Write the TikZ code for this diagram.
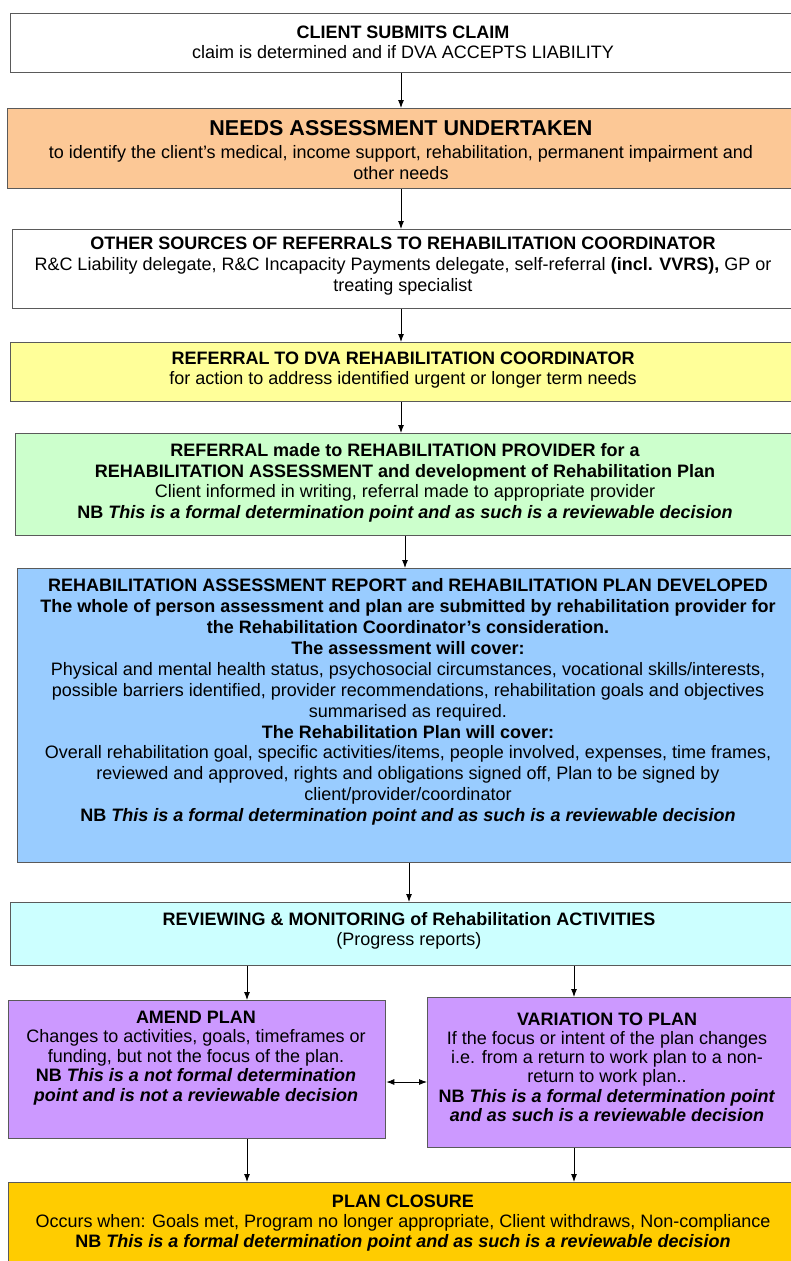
\documentclass[tikz,border=0pt]{standalone}
\usepackage{fontspec}
\setmainfont{Liberation Sans}
\usetikzlibrary{arrows.meta}
\definecolor{cOrange}{HTML}{FCC896}
\definecolor{cYellow}{HTML}{FFFF99}
\definecolor{cGreen}{HTML}{CCFFCC}
\definecolor{cBlue}{HTML}{99CCFF}
\definecolor{cCyan}{HTML}{CCFFFF}
\definecolor{cPurple}{HTML}{CC99FF}
\definecolor{cGold}{HTML}{FFCC00}
\definecolor{cBorder}{HTML}{5A5A5A}
\begin{document}
\begin{tikzpicture}[x=1pt,y=-1pt,
  box/.style={draw=cBorder, line width=1.3pt, rectangle, inner sep=0pt, anchor=north west},
  txt/.style={align=center, inner sep=0pt, text=black, font=\fontsize{18}{20.6}\selectfont},
  arr/.style={line width=0.9pt, -{Latex[length=8pt,width=6pt]}},
  darr/.style={line width=0.9pt, {Latex[length=8pt,width=6pt]}-{Latex[length=8pt,width=6pt]}}
]
\useasboundingbox (0,0) rectangle (790,1261);
\fill[white] (0,0) rectangle (790,1261);

% boxes
\node[box, fill=white,   minimum width=786pt, minimum height=59pt]  (b1) at (10,13) {};
\node[box, fill=cOrange, minimum width=789pt, minimum height=80pt]  (b2) at (7,108) {};
\node[box, fill=white,   minimum width=784pt, minimum height=79pt]  (b3) at (12,229) {};
\node[box, fill=cYellow, minimum width=786pt, minimum height=59pt]  (b4) at (10,342) {};
\node[box, fill=cGreen,  minimum width=781pt, minimum height=102pt] (b5) at (15,433) {};
\node[box, fill=cBlue,   minimum width=779pt, minimum height=294pt] (b6) at (17,568) {};
\node[box, fill=cCyan,   minimum width=786pt, minimum height=63pt]  (b7) at (10,902) {};
\node[box, fill=cPurple, minimum width=377pt, minimum height=138pt] (b8) at (8,1000) {};
\node[box, fill=cPurple, minimum width=369pt, minimum height=150pt] (b9) at (427,997) {};
\node[box, fill=cGold,   minimum width=788pt, minimum height=90pt]  (b10) at (8,1182) {};

% texts
\node[txt] (t1) at (403,42.5) {\textbf{CLIENT SUBMITS CLAIM}\\claim is determined and if DVA ACCEPTS LIABILITY};
\node[txt] (t2) at (401,150) {{\fontsize{21.5}{24}\selectfont\bfseries NEEDS ASSESSMENT UNDERTAKEN}\\[2pt]to identify the client's medical, income support, rehabilitation, permanent impairment and\\other needs};
\node[txt] (t3) at (403,266) {\textbf{OTHER SOURCES OF REFERRALS TO REHABILITATION COORDINATOR}\\R\&C Liability delegate, R\&C Incapacity Payments delegate, self-referral \textbf{(incl. VVRS),} GP or\\treating specialist};
\node[txt] (t4) at (403,370) {\textbf{REFERRAL TO DVA REHABILITATION COORDINATOR}\\for action to address identified urgent or longer term needs};
\node[txt] (t5) at (405,483) {\textbf{REFERRAL made to REHABILITATION PROVIDER for a}\\\textbf{REHABILITATION ASSESSMENT and development of Rehabilitation Plan}\\Client informed in writing, referral made to appropriate provider\\\textbf{NB \textit{This is a formal determination point and as such is a reviewable decision}}};
\node[txt, font=\fontsize{18}{20.9}\selectfont] (t6) at (408,702) {\textbf{REHABILITATION ASSESSMENT REPORT and REHABILITATION PLAN DEVELOPED}\\
\textbf{The whole of person assessment and plan are submitted by rehabilitation provider for}\\
\textbf{the Rehabilitation Coordinator's consideration.}\\
\textbf{The assessment will cover:}\\
Physical and mental health status, psychosocial circumstances, vocational skills/interests,\\
possible barriers identified, provider recommendations, rehabilitation goals and objectives\\
summarised as required.\\
\textbf{The Rehabilitation Plan will cover:}\\
Overall rehabilitation goal, specific activities/items, people involved, expenses, time frames,\\
reviewed and approved, rights and obligations signed off, Plan to be signed by\\
client/provider/coordinator\\
\textbf{NB \textit{This is a formal determination point and as such is a reviewable decision}}};
\node[txt] (t7) at (409,931) {\textbf{REVIEWING \& MONITORING of Rehabilitation ACTIVITIES}\\(Progress reports)};
\node[txt, font=\fontsize{18}{19.4}\selectfont] (t8) at (196,1058) {\textbf{AMEND PLAN}\\Changes to activities, goals, timeframes or\\funding, but not the focus of the plan.\\\textbf{NB \textit{This is a not formal determination}}\\\textbf{\textit{point and is not a reviewable decision}}};
\node[txt, font=\fontsize{18}{19.2}\selectfont] (t9) at (607,1067) {\textbf{VARIATION TO PLAN}\\If the focus or intent of the plan changes\\i.e. from a return to work plan to a non-\\return to work plan..\\\textbf{NB \textit{This is a formal determination point}}\\\textbf{\textit{and as such is a reviewable decision}}};
\node[txt, font=\fontsize{18}{20}\selectfont] (t10) at (403,1223) {\textbf{PLAN CLOSURE}\\Occurs when: Goals met, Program no longer appropriate, Client withdraws, Non-compliance\\\textbf{NB \textit{This is a formal determination point and as such is a reviewable decision}}};

% connectors
\coordinate (xL) at (247,0);
\coordinate (xR) at (574,0);
\coordinate (yA) at (0,1082);
\coordinate (xA) at (401,0);
\coordinate (xB) at (405,0);
\coordinate (xC) at (409,0);
\draw[arr] (b1.south -| xA) -- (b2.north -| xA);
\draw[arr] (b2.south -| xA) -- (b3.north -| xA);
\draw[arr] (b3.south -| xA) -- (b4.north -| xA);
\draw[arr] (b4.south -| xA) -- (b5.north -| xA);
\draw[arr] (b5.south -| xB) -- (b6.north -| xB);
\draw[arr] (b6.south -| xC) -- (b7.north -| xC);
\draw[arr] (b7.south -| xL) -- (b8.north -| xL);
\draw[arr] (b7.south -| xR) -- (b9.north -| xR);
\draw[darr] (b8.east |- yA) -- (b9.west |- yA);
\draw[arr] (b8.south -| xL) -- (b10.north -| xL);
\draw[arr] (b9.south -| xR) -- (b10.north -| xR);
\end{tikzpicture}
\end{document}
